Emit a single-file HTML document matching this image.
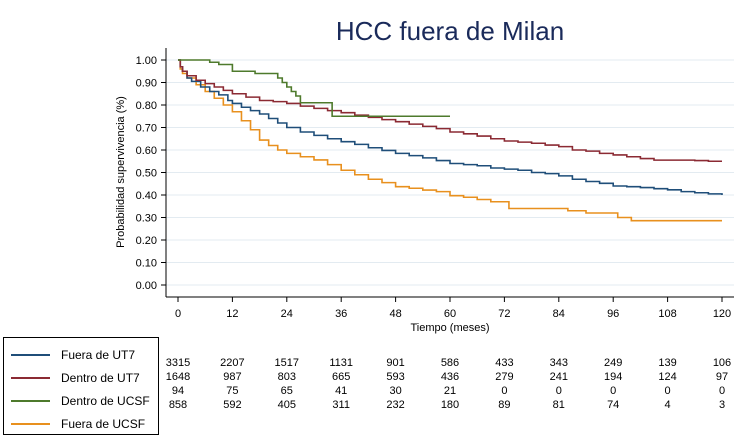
<!DOCTYPE html>
<html><head><meta charset="utf-8"><style>
body{margin:0;background:#fff;font-family:"Liberation Sans",sans-serif}
#c{position:absolute;left:0;top:0}
</style></head><body>
<svg id="c" width="750" height="444" xmlns="http://www.w3.org/2000/svg">
<text x="450" y="40" text-anchor="middle" font-size="26" fill="#1a2a5a">HCC fuera de Milan</text>
<g id="grid"></g><g id="axes"></g><g id="lines"></g><g id="risk"></g>
<text transform="translate(124,172) rotate(-90)" text-anchor="middle" font-size="11" fill="#000">Probabilidad supervivencia (%)</text>
<text x="450" y="331" text-anchor="middle" font-size="11" fill="#000">Tiempo (meses)</text>
<g font-size="12">
<rect x="3.5" y="337.5" width="155" height="97" fill="#fff" stroke="#000" stroke-width="1"/>
<line x1="11" y1="355" x2="50" y2="355" stroke="#1f4e79" stroke-width="2"/><text x="61" y="359">Fuera de UT7</text>
<line x1="11" y1="378" x2="50" y2="378" stroke="#8b2a33" stroke-width="2"/><text x="61" y="382">Dentro de UT7</text>
<line x1="11" y1="401" x2="50" y2="401" stroke="#4e7a2c" stroke-width="2"/><text x="61" y="405">Dentro de UCSF</text>
<line x1="11" y1="424" x2="50" y2="424" stroke="#e8901e" stroke-width="2"/><text x="61" y="428">Fuera de UCSF</text>
</g>
</svg>
<script>
const xTicks=[0,12,24,36,48,60,72,84,96,108,120];
const yTicks=[0,0.1,0.2,0.3,0.4,0.5,0.6,0.7,0.8,0.9,1.0];
const tBlue=[0,0.5,1,2,3,5,7,9,11,12,14,16,18,20,22,24,27,30,33,36,39,42,45,48,51,54,57,60,63,66,69,72,75,78,81,84,87,90,93,96,99,102,105,108,111,114,117,120];
const sBlue=[1,0.97,0.95,0.92,0.905,0.88,0.86,0.845,0.82,0.807,0.79,0.775,0.76,0.74,0.72,0.70,0.68,0.665,0.65,0.637,0.625,0.61,0.598,0.585,0.575,0.565,0.553,0.54,0.535,0.53,0.52,0.515,0.51,0.50,0.495,0.485,0.47,0.46,0.452,0.44,0.437,0.433,0.428,0.423,0.415,0.41,0.405,0.40];
const tRed=[0,0.5,1,2,4,6,8,10,12,15,18,21,24,27,30,33,36,39,42,45,48,51,54,57,60,63,66,69,72,75,78,81,84,87,90,93,96,99,102,105,108,111,114,117,120];
const sRed=[1,0.97,0.95,0.93,0.91,0.895,0.88,0.865,0.85,0.835,0.82,0.815,0.807,0.795,0.785,0.775,0.766,0.755,0.745,0.735,0.726,0.715,0.705,0.695,0.68,0.672,0.662,0.65,0.64,0.635,0.63,0.622,0.615,0.60,0.595,0.585,0.578,0.57,0.562,0.555,0.555,0.555,0.553,0.55,0.55];
const tGreen=[0,7,9,12,17,22,23,24,25,26,27,34,60];
const sGreen=[1,0.99,0.98,0.95,0.94,0.92,0.90,0.88,0.86,0.84,0.81,0.75,0.75];
const tOrange=[0,0.5,1,2,4,6,8,10,12,14,16,18,20,22,24,27,30,33,36,39,42,45,48,51,54,57,60,63,66,69,73,84,86,90,97,100,120];
const sOrange=[1,0.96,0.94,0.92,0.89,0.86,0.83,0.80,0.77,0.73,0.69,0.644,0.62,0.60,0.585,0.57,0.556,0.535,0.51,0.49,0.47,0.455,0.437,0.43,0.422,0.415,0.397,0.39,0.38,0.37,0.34,0.34,0.33,0.32,0.30,0.286,0.286];
const riskBlue=[3315,2207,1517,1131,901,586,433,343,249,139,106];
const riskRed=[1648,987,803,665,593,436,279,241,194,124,97];
const riskGreen=[94,75,65,41,30,21,0,0,0,0,0];
const riskOrange=[858,592,405,311,232,180,89,81,74,4,3];
const X=t=>178+t*(544/120), Y=v=>285-v*225;
const NS='http://www.w3.org/2000/svg';
function mk(tag,attrs,parent,txt){const e=document.createElementNS(NS,tag);for(const k in attrs)e.setAttribute(k,attrs[k]);if(txt!==undefined)e.textContent=txt;document.getElementById(parent).appendChild(e);return e;}
yTicks.forEach(v=>{
 const g=mk('line',{x1:166,x2:734,y1:Y(v),y2:Y(v),stroke:'#e3ebf1','stroke-width':1},'grid');
 
 
 mk('line',{x1:161,x2:166,y1:Y(v),y2:Y(v),stroke:'#000'},'axes');
 const t=mk('text',{x:157,y:Y(v)+4,'text-anchor':'end','font-size':11},'axes',v.toFixed(2));
 
 
});
mk('line',{x1:166,x2:166,y1:48,y2:297,stroke:'#000'},'axes');
mk('line',{x1:166,x2:734,y1:297,y2:297,stroke:'#000'},'axes');
xTicks.forEach(v=>{
 mk('line',{x1:X(v),x2:X(v),y1:297,y2:302,stroke:'#000'},'axes');
 const t=mk('text',{x:X(v),y:317,'text-anchor':'middle','font-size':11},'axes',v);
 
 
});
function step(ts,ss,col,name){
 let d='M'+X(ts[0])+','+Y(ss[0]);
 for(let i=1;i<ts.length;i++){d+=' H'+X(ts[i])+' V'+Y(ss[i]);}
 const p=mk('path',{d:d,fill:'none',stroke:col,'stroke-width':1.6},'lines');
 
 
}
step(tOrange,sOrange,'#e8901e','curve-fuera-ucsf');
step(tBlue,sBlue,'#1f4e79','curve-fuera-ut7');
step(tRed,sRed,'#8b2a33','curve-dentro-ut7');
step(tGreen,sGreen,'#4e7a2c','curve-dentro-ucsf');
[[riskBlue,366],[riskRed,380],[riskGreen,394],[riskOrange,408]].forEach(([arr,y])=>{
 arr.forEach((n,i)=>{
  const t=mk('text',{x:X(xTicks[i]),y:y,'text-anchor':'middle','font-size':11},'risk',n);
  
  
 });
});
</script>
</body></html>
